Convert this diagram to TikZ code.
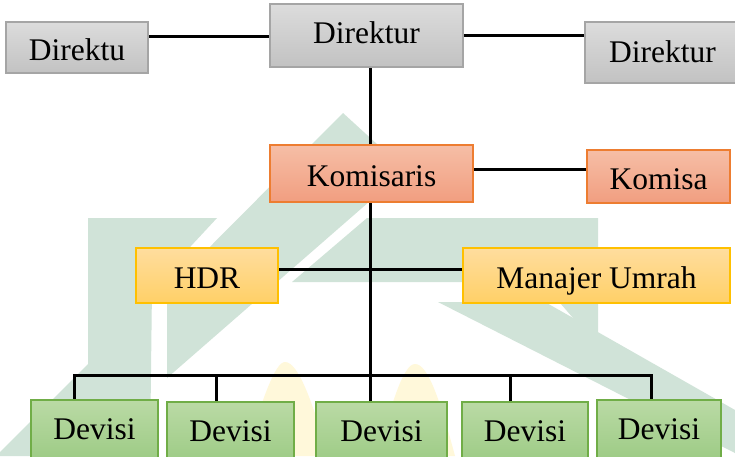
\documentclass[tikz,border=0pt]{standalone}
\usepackage{fontspec}
\setmainfont{Liberation Serif}
\pgfdeclarelayer{wm}
\pgfdeclarelayer{lines}
\pgfsetlayers{wm,lines,main}
\definecolor{grayT}{HTML}{DCDCDC}
\definecolor{grayB}{HTML}{C2C2C2}
\definecolor{grayD}{HTML}{A5A5A5}
\definecolor{orT}{HTML}{F6BEA6}
\definecolor{orB}{HTML}{F19E80}
\definecolor{orD}{HTML}{ED7D31}
\definecolor{yeT}{HTML}{FFDD9E}
\definecolor{yeB}{HTML}{FFD067}
\definecolor{yeD}{HTML}{FFC000}
\definecolor{grT}{HTML}{BADAA5}
\definecolor{grB}{HTML}{9DCB85}
\definecolor{grD}{HTML}{70AD47}
\definecolor{wmgreen}{RGB}{208,227,216}
\definecolor{wmyellow}{RGB}{255,248,218}
\tikzset{
  box/.style={draw, line width=1.2pt, inner sep=0pt, align=center,
    font=\fontsize{31.5}{36}\selectfont, text height=28.8pt, text depth=3pt},
  graybox/.style={box, draw=grayD, top color=grayT, bottom color=grayB},
  orbox/.style={box, draw=orD, top color=orT, bottom color=orB},
  yebox/.style={box, draw=yeD, top color=yeT, bottom color=yeB},
  grbox/.style={box, draw=grD, top color=grT, bottom color=grB},
  conn/.style={draw=black, line width=3pt},
  wm/.style={fill=wmgreen, draw=none},
  wmy/.style={fill=wmyellow, draw=none}
}
\begin{document}
\begin{tikzpicture}[x=1pt,y=-1pt]
\useasboundingbox (0,0) rectangle (735,456);
% nodes
\node[graybox, minimum width=142pt, minimum height=51pt] (d1) at (77,47.5) {Direktu};
\node[graybox, minimum width=193pt, minimum height=63pt, text height=18.8pt] (d2) at (366.5,35.5) {Direktur};
\node[graybox, minimum width=155pt, minimum height=61pt, text height=23.8pt] (d3) at (662.5,52.5) {Direktur};
\node[orbox, minimum width=203pt, minimum height=57pt] (k1) at (371.5,173.5) {Komisaris};
\node[orbox, minimum width=143pt, minimum height=53pt] (k2) at (658.5,176.5) {Komisa};
\node[yebox, minimum width=142pt, minimum height=55pt] (h1) at (207,275.5) {HDR};
\node[yebox, minimum width=267pt, minimum height=55pt] (m1) at (596.5,275.5) {Manajer Umrah};
\node[grbox, minimum width=127pt, minimum height=60pt, text height=22pt] (v1) at (94.5,430) {Devisi};
\node[grbox, minimum width=127pt, minimum height=60pt, text height=22pt] (v2) at (230.5,432) {Devisi};
\node[grbox, minimum width=131pt, minimum height=60pt, text height=22pt] (v3) at (381.5,432) {Devisi};
\node[grbox, minimum width=126pt, minimum height=60pt, text height=22pt] (v4) at (525,432) {Devisi};
\node[grbox, minimum width=124pt, minimum height=60pt, text height=22pt] (v5) at (659,430) {Devisi};
\coordinate (b1) at (74,375);
\coordinate (b2) at (216,375);
\coordinate (tr) at (370,375);
\coordinate (b4) at (510,375);
\coordinate (b5) at (651,375);
% connectors
\begin{pgfonlayer}{lines}
\draw[conn] ([yshift=11pt]d1.east) -- ([yshift=11pt]d1.east -| d2.west);
\draw[conn] ([yshift=0.5pt]d2.east) -- ([yshift=0.5pt]d2.east -| d3.west);
\draw[conn] (d2.south -| tr) -- (tr);
\draw[conn] ([yshift=4.5pt]k1.east) -- ([yshift=7.5pt]k2.west);
\draw[conn] ([yshift=6pt]h1.east) -- ([yshift=6pt]m1.west);
\draw[conn, line cap=rect] (b1) -- (b5);
\draw[conn] (b1) -- (b1 |- v1.north);
\draw[conn] (b2) -- (b2 |- v2.north);
\draw[conn] (tr) -- (tr |- v3.north);
\draw[conn] (b4) -- (b4 |- v4.north);
\draw[conn] (b5) -- (b5 |- v5.north);
\end{pgfonlayer}
% watermark
\begin{pgfonlayer}{wm}
\fill[white] (0,0) rectangle (735,456);
\fill[wm] (88,218) -- (217,218) -- (152,288) -- (150,456) -- (88,456) -- cycle;
\fill[wm] (0,452) -- (88,364) -- (88,408) -- (40,456) -- (0,456) -- cycle;
\fill[wm] (167,290) -- (343,113) -- (378,145) -- (378,194) -- (167,378) -- cycle;
\fill[wm] (292,282) -- (367,218) -- (598,218) -- (598,282) -- cycle;
\fill[wm] (542,282) -- (598,282) -- (598,347) -- cycle;
\fill[wm] (438,302) -- (545,302) -- (735,410) -- (735,453) -- cycle;
\fill[wmy] (245,456) .. controls (262,400) and (275,362) .. (285,362)
  .. controls (298,362) and (312,400) .. (328,456) -- cycle;
\fill[wmy] (378,456) .. controls (392,400) and (404,364) .. (415,364)
  .. controls (428,364) and (440,400) .. (455,456) -- cycle;
\end{pgfonlayer}
\end{tikzpicture}
\end{document}
